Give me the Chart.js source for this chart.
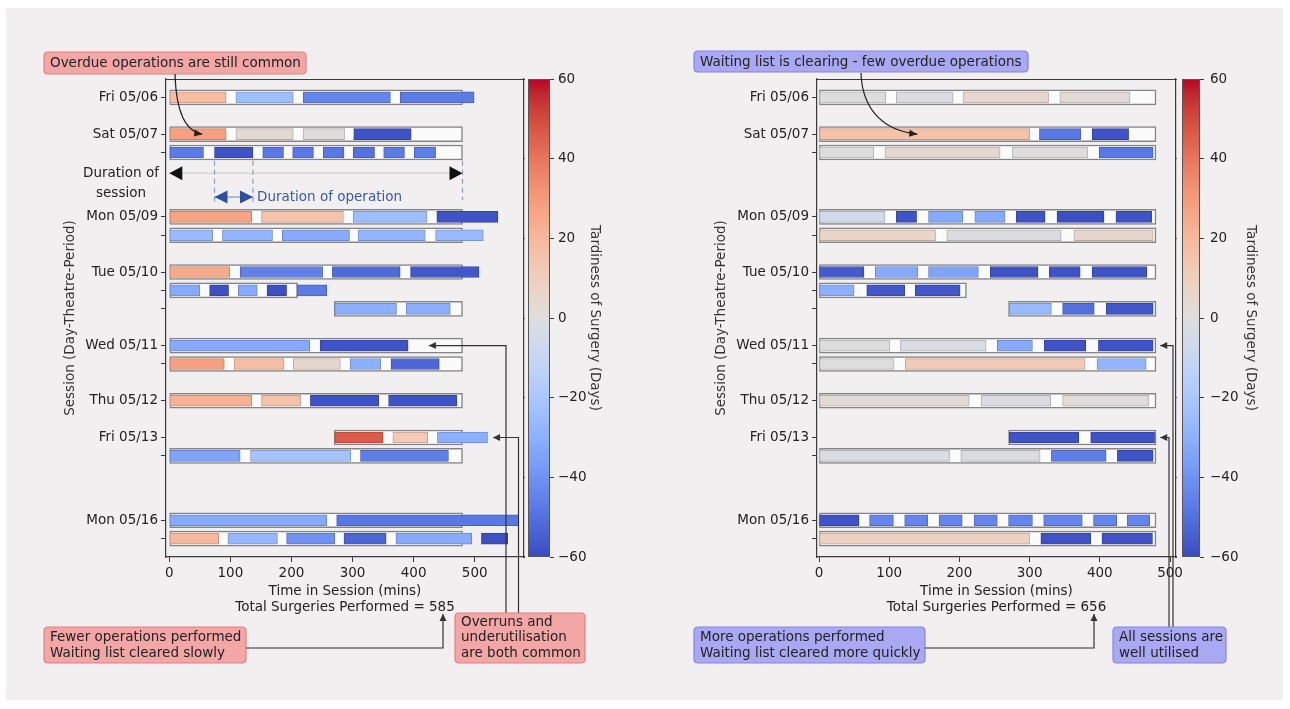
<!DOCTYPE html>
<html><head><meta charset="utf-8">
<script src="https://cdn.jsdelivr.net/npm/chart.js@4.4.1/dist/chart.umd.min.js"></script>
<style>
html,body{margin:0;padding:0;background:#fff;width:1290px;height:709px;overflow:hidden;}
#bg{position:absolute;left:6px;top:8px;width:1277px;height:692px;background:#f1efef;}
canvas{position:absolute;top:0;}
#c1{left:0px;} #c2{left:645px;}
</style></head><body>
<div id="bg"></div>
<canvas id="c1" width="645" height="709"></canvas>
<canvas id="c2" width="645" height="709"></canvas>
<script>
// ---------------- DATA ----------------
const rowPositions = [0, 2, 3, 6.5, 7.5, 9.5, 10.5, 11.5, 13.5, 14.5, 16.5, 18.5, 19.5, 23, 24];
const rowLabels = ['Fri 05/06','Sat 05/07','','Mon 05/09','','Tue 05/10','','','Wed 05/11','','Thu 05/12','Fri 05/13','','Mon 05/16',''];
const sessionStart = [0,0,0,0,0,0,0,270,0,0,0,270,0,0,0];
const sessionEnd   = [480,480,480,480,480,480,210,480,480,480,480,480,480,480,480];
const xTicks = [0,100,200,300,400,500];
const cbTicks = [60,40,20,0,-20,-40,-60];
const leftTotal = 585;
const rightTotal = 656;
// operations per session row: [start min, end min, tardiness days]
const leftOps = [
  [[0,93,18],[109,203,-24],[219,362,-44],[378,499,-47]],
  [[0,93,28],[109,203,3],[219,287,1],[302,396,-58]],
  [[0,56,-47],[74,137,-58],[153,187,-48],[202,236,-48],[252,286,-48],[301,336,-50],[351,385,-47],[401,436,-46]],
  [[0,135,27],[151,285,15],[301,422,-24],[438,538,-58]],
  [[0,71,-26],[87,169,-28],[185,295,-32],[309,419,-28],[436,514,-26]],
  [[0,99,25],[116,251,-45],[267,378,-52],[395,507,-57]],
  [[0,50,-32],[66,97,-59],[113,144,-32],[160,192,-59],[209,258,-47]],
  [[271,372,-30],[388,460,-30]],
  [[0,230,-32],[247,391,-58]],
  [[0,90,28],[106,188,18],[203,280,5],[296,346,-30],[363,442,-53]],
  [[0,135,22],[151,215,16],[231,343,-58],[359,471,-58]],
  [[271,350,46],[366,423,12],[439,521,-30]],
  [[0,116,-34],[133,297,-22],[313,457,-46]],
  [[0,258,-32],[274,572,-48]],
  [[0,81,20],[96,177,-27],[192,271,-40],[286,355,-53],[371,495,-32],[511,554,-59]]
];
const rightOps = [
  [[1,95,0],[110,191,-1],[205,327,5],[343,443,2]],
  [[0,300,16],[314,373,-48],[389,441,-58]],
  [[0,78,0],[94,258,4],[275,383,1],[399,476,-48]],
  [[0,94,-6],[110,139,-58],[156,205,-32],[222,265,-32],[281,322,-58],[339,406,-59],[423,474,-58]],
  [[0,166,6],[182,345,-1],[363,476,5]],
  [[0,64,-56],[80,141,-32],[156,227,-34],[244,312,-58],[328,372,-58],[389,467,-58]],
  [[0,50,-30],[68,122,-57],[137,201,-57]],
  [[271,331,-26],[347,392,-50],[409,476,-57]],
  [[0,101,0],[116,238,-2],[254,304,-32],[321,380,-58],[398,476,-58]],
  [[0,107,0],[123,379,12],[396,466,-28]],
  [[0,214,2],[231,330,-1],[347,470,1]],
  [[271,370,-58],[387,478,-58]],
  [[0,186,-2],[202,315,-1],[331,409,-46],[425,476,-58]],
  [[0,57,-58],[72,106,-44],[122,155,-44],[171,204,-44],[221,254,-44],[270,304,-44],[320,375,-44],[391,424,-44],[439,471,-44]],
  [[0,300,8],[316,387,-58],[403,475,-58]]
];

// ---------------- STYLE ----------------
const FONT = '"DejaVu Sans", "Liberation Sans", sans-serif';
const BG = '#f1efef';
const SPINE = '#3a3a3a';
Chart.defaults.font.family = FONT;
Chart.defaults.font.size = 13.5;
Chart.defaults.color = '#222';

const CW = [[59,76,192],[68,90,204],[77,104,215],[87,117,225],[98,130,234],[108,142,241],[119,154,247],[130,165,251],[141,176,254],[152,185,255],[163,194,255],[174,201,253],[184,208,249],[194,213,244],[204,217,238],[213,219,230],[221,221,221],[229,216,209],[236,211,197],[241,204,185],[244,196,173],[246,187,160],[247,177,148],[247,166,135],[244,154,123],[241,141,111],[236,127,99],[229,112,88],[222,96,77],[213,80,66],[203,62,56],[192,40,47],[180,4,38]];
function coolwarm(v){
  let t=(v+60)/120; t=Math.max(0,Math.min(1,t));
  const f=t*32; const i=Math.min(31,Math.floor(f)); const r=f-i;
  return CW[i].map((c,k)=>c+(CW[i+1][k]-c)*r);
}
const rgb = c => 'rgb('+c.map(v=>Math.round(v)).join(',')+')';
const fmt = v => v<0 ? '\u2212'+Math.abs(v) : String(v);

// ---------- drawing helpers for annotations ----------
function roundBox(ctx,x,y,w,h,r,fill,stroke){
  ctx.beginPath();
  ctx.moveTo(x+r,y); ctx.lineTo(x+w-r,y); ctx.quadraticCurveTo(x+w,y,x+w,y+r);
  ctx.lineTo(x+w,y+h-r); ctx.quadraticCurveTo(x+w,y+h,x+w-r,y+h);
  ctx.lineTo(x+r,y+h); ctx.quadraticCurveTo(x,y+h,x,y+h-r);
  ctx.lineTo(x,y+r); ctx.quadraticCurveTo(x,y,x+r,y); ctx.closePath();
  ctx.fillStyle=fill; ctx.fill(); ctx.lineWidth=1.2; ctx.strokeStyle=stroke; ctx.stroke();
}
function textBox(ctx,b,fill,stroke){
  roundBox(ctx,b.x,b.y,b.w,b.h,4,fill,stroke);
  ctx.fillStyle='#222'; ctx.font='13.5px '+FONT; ctx.textAlign='left'; ctx.textBaseline='middle';
  b.lines.forEach((t,i)=>ctx.fillText(t,b.x+6,b.ty[i]));
}
function head(ctx,x,y,ang,len,hw,color){
  ctx.save(); ctx.translate(x,y); ctx.rotate(ang);
  ctx.beginPath(); ctx.moveTo(0,0); ctx.lineTo(-len,-hw); ctx.lineTo(-len,hw); ctx.closePath();
  ctx.fillStyle=color; ctx.fill(); ctx.restore();
}
function polyArrow(ctx,pts){
  ctx.beginPath(); ctx.moveTo(pts[0][0],pts[0][1]);
  for(let i=1;i<pts.length;i++) ctx.lineTo(pts[i][0],pts[i][1]);
  ctx.strokeStyle='#333'; ctx.lineWidth=1.2; ctx.stroke();
  const a=pts[pts.length-2], b=pts[pts.length-1];
  head(ctx,b[0],b[1],Math.atan2(b[1]-a[1],b[0]-a[0]),7,3.5,'#333');
}
function curveArrow(ctx,s,c1,c2,e){
  ctx.beginPath(); ctx.moveTo(s[0],s[1]); ctx.bezierCurveTo(c1[0],c1[1],c2[0],c2[1],e[0],e[1]);
  ctx.strokeStyle='#222'; ctx.lineWidth=1.2; ctx.stroke();
  head(ctx,e[0],e[1],Math.atan2(e[1]-c2[1],e[0]-c2[0]),8,3.5,'#222');
}

function overlay(L){
  return {
    id:'overlay'+L.off,
    afterDraw(chart){
      const ctx=chart.ctx, a=chart.chartArea, xs=chart.scales.x, ys=chart.scales.y, cb=chart.scales.cb;
      ctx.save();
      // colorbar
      const y0=cb.getPixelForValue(60), y1=cb.getPixelForValue(-60), x0=a.right+L.cbGap;
      ctx.fillStyle=BG; ctx.fillRect(a.right+1,a.top-3,L.cbGap+L.cbBarW-1,a.bottom-a.top+6);
      const g=ctx.createLinearGradient(0,y0,0,y1);
      for(let i=0;i<=32;i++) g.addColorStop(i/32,rgb(CW[32-i]));
      ctx.fillStyle=g; ctx.fillRect(x0,y0,L.cbBarW,y1-y0);
      ctx.strokeStyle='#555'; ctx.lineWidth=1; ctx.strokeRect(x0+0.5,y0+0.5,L.cbBarW-1,y1-y0-1);
      // top spine
      ctx.strokeStyle=SPINE; ctx.lineWidth=1.2;
      ctx.beginPath(); ctx.moveTo(a.left,a.top+0.5); ctx.lineTo(a.right,a.top+0.5); ctx.stroke();
      // annotations in page coordinates
      ctx.translate(-L.off,0);
      const P=(xv,yv)=>[xs.getPixelForValue(xv)+L.off, ys.getPixelForValue(yv)];
      L.draw(ctx,P,a);
      ctx.restore();
    }
  };
}

function makeChart(id,ops,L){
  const opData=[],opBg=[],opBd=[];
  ops.forEach((row,i)=>row.forEach(([s,e,t])=>{
    opData.push({x:[s,e],y:rowPositions[i]});
    const c=coolwarm(t); opBg.push(rgb(c)); opBd.push(rgb(c.map(v=>v*0.8)));
  }));
  const boxData=rowPositions.map((p,i)=>({x:[sessionStart[i],sessionEnd[i]],y:p}));
  return new Chart(document.getElementById(id),{
    type:'bar',
    data:{datasets:[
      {label:'Operations',data:opData,backgroundColor:opBg,borderColor:opBd,borderWidth:1,borderSkipped:false,barThickness:11,grouped:false,order:1},
      {label:'Sessions',data:boxData,backgroundColor:'#fbfbfb',borderColor:'rgba(120,120,120,0.9)',borderWidth:1.5,borderSkipped:false,barThickness:15,grouped:false,order:2}
    ]},
    options:{
      indexAxis:'y',responsive:false,animation:false,devicePixelRatio:1,
      layout:{padding:{top:79,bottom:0,left:0,right:0}},
      plugins:{legend:{display:false},tooltip:{enabled:false}},
      scales:{
        x:{type:'linear',min:L.xMin,max:L.xMax,offset:false,
          afterBuildTicks:s=>{s.ticks=xTicks.map(v=>({value:v}));},
          afterFit:s=>{s.height=152;},
          ticks:{autoSkip:false,maxRotation:0,padding:3,color:'#222'},
          grid:{offset:false,drawOnChartArea:false,tickLength:5,color:SPINE},
          border:{display:true,color:SPINE,width:1.2},
          title:{display:true,text:['Time in Session (mins)','Total Surgeries Performed = '+L.total],color:'#222',padding:{top:0,bottom:93}}},
        y:{type:'linear',reverse:true,min:-1,max:25,offset:false,
          afterBuildTicks:s=>{s.ticks=rowPositions.map(v=>({value:v}));},
          afterFit:s=>{s.width=L.yW;},
          ticks:{autoSkip:false,padding:3,color:'#222',callback:(v,i)=>rowLabels[i]},
          grid:{offset:false,drawOnChartArea:false,tickLength:5,color:SPINE},
          border:{display:true,color:SPINE,width:1.2},
          title:{display:true,text:'Session (Day-Theatre-Period)',color:'#333',padding:{top:L.yTitlePad,bottom:0}}},
        cb:{type:'linear',position:'right',min:-60,max:60,offset:false,
          afterBuildTicks:s=>{s.ticks=cbTicks.map(v=>({value:v}));},
          afterFit:s=>{s.width=L.cbW;},
          ticks:{padding:L.cbPad,color:'#222',callback:v=>fmt(v)},
          grid:{offset:false,drawOnChartArea:false,tickLength:L.cbTick,color:SPINE},
          border:{display:true,color:SPINE,width:1.2},
          title:{display:true,text:'Tardiness of Surgery (Days)',color:'#333',padding:{top:L.cbTitlePad,bottom:0}}}
      }
    },
    plugins:[overlay(L)]
  });
}

// ---------- LEFT ----------
makeChart('c1',leftOps,{
  off:0,xMin:-5.4,xMax:580.7,yW:166,cbW:121,cbGap:4,cbBarW:22,cbTick:30,cbPad:4,cbTitlePad:42,yTitlePad:62,total:leftTotal,
  draw(ctx,P,a){
    // duration of session
    const [xa,ya]=P(0,4.12), [xb]=P(480,4.12);
    ctx.strokeStyle='#c9c9c9'; ctx.lineWidth=1;
    ctx.beginPath(); ctx.moveTo(xa,ya); ctx.lineTo(xb,ya); ctx.stroke();
    head(ctx,xa,ya,Math.PI,13,7,'#111'); head(ctx,xb,ya,0,13,7,'#111');
    ctx.fillStyle='#222'; ctx.font='13.5px '+FONT; ctx.textAlign='center'; ctx.textBaseline='middle';
    ctx.fillText('Duration of',121,P(0,4.12)[1]); ctx.fillText('session',121,P(0,5.22)[1]);
    // dashed guides
    ctx.strokeStyle='#8c9cc0'; ctx.lineWidth=1.2; ctx.setLineDash([5,4]);
    [[74,5.85],[137,5.85],[480,5.6]].forEach(([m,ye])=>{
      const [x,yt]=P(m,3.45), [,yb]=P(m,ye);
      ctx.beginPath(); ctx.moveTo(x,yt); ctx.lineTo(x,yb); ctx.stroke();
    });
    ctx.setLineDash([]);
    // duration of operation
    const [xo1,yo]=P(74,5.42), [xo2]=P(137,5.42);
    ctx.strokeStyle='#6f86bf'; ctx.lineWidth=1;
    ctx.beginPath(); ctx.moveTo(xo1,yo); ctx.lineTo(xo2,yo); ctx.stroke();
    head(ctx,xo1,yo,Math.PI,13,6.5,'#2d4f9e'); head(ctx,xo2,yo,0,13,6.5,'#2d4f9e');
    ctx.fillStyle='#3a5aa8'; ctx.textAlign='left'; ctx.fillText('Duration of operation',xo2+4,yo);
    // callouts
    textBox(ctx,{x:44,y:52,w:262,h:22,lines:['Overdue operations are still common'],ty:[63]},'#f3a6a6','#e38080');
    const t1=P(54,2);
    curveArrow(ctx,[175,74],[176,108],[183,t1[1]-3],t1);
    textBox(ctx,{x:44,y:627,w:202,h:36,lines:['Fewer operations performed','Waiting list cleared slowly'],ty:[637.5,653]},'#f3a6a6','#e38080');
    polyArrow(ctx,[[246,648],[443,648],[443,614]]);
    const tw=P(425,13.5), tf=P(530,18.5);
    polyArrow(ctx,[[506,613],[506,tw[1]],tw]);
    polyArrow(ctx,[[518.5,613],[518.5,tf[1]],tf]);
    textBox(ctx,{x:455,y:613,w:130,h:50,lines:['Overruns and','underutilisation','are both common'],ty:[622,637.5,653]},'#f3a6a6','#e38080');
  }
});

// ---------- RIGHT ----------
makeChart('c2',rightOps,{
  off:645,xMin:-2.85,xMax:508.5,yW:172,cbW:114,cbGap:6,cbBarW:18,cbTick:28,cbPad:6,cbTitlePad:31,yTitlePad:68,total:rightTotal,
  draw(ctx,P,a){
    textBox(ctx,{x:694,y:51,w:334,h:21,lines:['Waiting list is clearing - few overdue operations'],ty:[62]},'#a9a8f3','#8585e0');
    const t1=P(140,2);
    curveArrow(ctx,[861,73],[862,104],[878,t1[1]-4],t1);
    textBox(ctx,{x:694,y:627,w:231,h:36,lines:['More operations performed','Waiting list cleared more quickly'],ty:[637.5,653]},'#a9a8f3','#8585e0');
    polyArrow(ctx,[[925,648],[1094,648],[1094,614]]);
    const tw=P(486,13.5), tf=P(486,18.5);
    polyArrow(ctx,[[1173,627],[1173,tw[1]],tw]);
    polyArrow(ctx,[[1169,627],[1169,tf[1]],tf]);
    textBox(ctx,{x:1113,y:627,w:113,h:36,lines:['All sessions are','well utilised'],ty:[637.5,653]},'#a9a8f3','#8585e0');
  }
});
</script>
</body></html>
